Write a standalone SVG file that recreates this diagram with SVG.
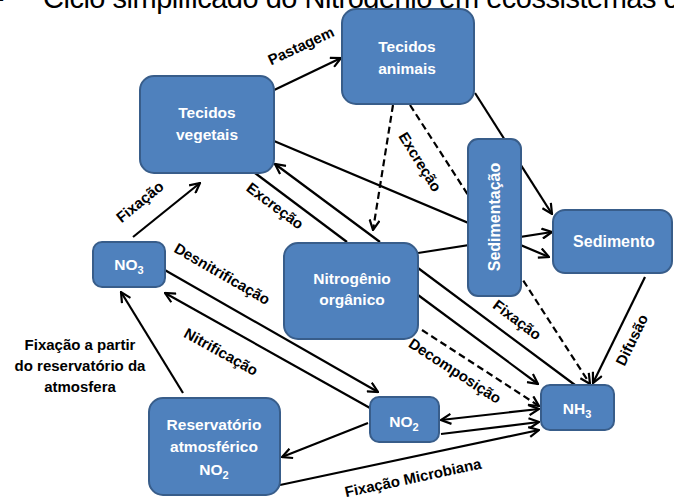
<svg xmlns="http://www.w3.org/2000/svg" width="674" height="500" viewBox="0 0 674 500">
<style>
.title{font-family:"Liberation Sans",Arial,sans-serif;font-size:29px;fill:#000}
.box{fill:#4F81BD;stroke:#385D8A;stroke-width:2}
.nt{font-family:"Liberation Sans",Arial,sans-serif;font-weight:bold;font-size:15.5px;fill:#fff;text-anchor:middle}
.lb{font-family:"Liberation Sans",Arial,sans-serif;font-weight:bold;font-size:15px;fill:#000;text-anchor:middle}
.ln{stroke:#000;stroke-width:2.2;fill:none}
.ds{stroke-dasharray:7,4}
.ar{marker-end:url(#ah)}
</style>
<defs>
<marker id="ah" viewBox="0 0 12 12" refX="11" refY="6" markerWidth="12" markerHeight="12" markerUnits="userSpaceOnUse" orient="auto-start-reverse">
<path d="M1,1 L11,6 L1,11" fill="none" stroke="#000" stroke-width="2.2" stroke-linejoin="miter"/>
</marker>
</defs>
<rect width="674" height="500" fill="#fff"/>
<text class="title" x="-13" y="8">–</text>
<text class="title" x="43" y="8" textLength="635" lengthAdjust="spacing">Ciclo simplificado do Nitrogênio em ecossistemas c</text>
<g id="connectors">
<path class="ln ar" d="M270,92 L341,58"/>
<path class="ln ar" d="M475,93 L552,214"/>
<path class="ln ds ar" d="M393,105 L373,230"/>
<path class="ln ds ar" d="M410,105 L590,384"/>
<path class="ln ar" d="M274,141 L549,257"/>
<path class="ln ar" d="M418,253 L552,232"/>
<path class="ln" d="M255,173 L347,242"/>
<path class="ln ar" d="M380,242 L275,164"/>
<path class="ln ar" d="M133,237 L200,183"/>
<path class="ln ar" d="M163,269 L378,392"/>
<path class="ln ar" d="M370,408 L165,293"/>
<path class="ln ar" d="M183,393 L121,292"/>
<path class="ln ar" d="M368,423 L282,457"/>
<path class="ln ar" d="M280,485 L539,430"/>
<path class="ln ar" d="M441,420 L539,409" marker-start="url(#ah)"/>
<path class="ln ar" d="M441,434 L539,422"/>
<path class="ln ds ar" d="M422,330 L539,406"/>
<path class="ln ar" d="M418,295 L538,384"/>
<path class="ln" d="M418,268 L575,385"/>
<path class="ln ar" d="M645,277 L593,383"/>
<text class="lb" transform="translate(301,46) rotate(-25)" y="5">Pastagem</text>
<text class="lb" transform="translate(420,162) rotate(58)" y="5">Excreção</text>
<text class="lb" transform="translate(275,206) rotate(37)" y="5">Excreção</text>
<text class="lb" transform="translate(140,202) rotate(-39)" y="5">Fixação</text>
<text class="lb" transform="translate(222,274) rotate(30)" y="5">Desnitrificação</text>
<text class="lb" transform="translate(221,352) rotate(29)" y="5">Nitrificação</text>
<text class="lb" transform="translate(455,371) rotate(33)" y="5">Decomposição</text>
<text class="lb" transform="translate(517,320) rotate(37)" y="5">Fixação</text>
<text class="lb" transform="translate(632,340) rotate(-64)" y="5">Difusão</text>
<text class="lb" transform="translate(413,478) rotate(-12)" y="5">Fixação Microbiana</text>
<text class="lb" x="80" y="350">Fixação a partir</text>
<text class="lb" x="80" y="371">do reservatório da</text>
<text class="lb" x="80" y="392">atmosfera</text>
</g>
<g id="tecidos-animais">
<rect class="box" x="342" y="9" width="132" height="95" rx="14"/>
<text class="nt" x="407" y="52">Tecidos</text>
<text class="nt" x="407" y="74">animais</text>
</g>
<g id="tecidos-vegetais">
<rect class="box" x="140" y="76" width="134" height="97" rx="14"/>
<text class="nt" x="207" y="118">Tecidos</text>
<text class="nt" x="207" y="140">vegetais</text>
</g>
<g id="sedimentacao">
<rect class="box" x="468" y="139" width="53" height="157" rx="10"/>
<text class="nt" transform="translate(494,217) rotate(-90)" y="5.5" style="font-size:16px">Sedimentação</text>
</g>
<g id="sedimento">
<rect class="box" x="553" y="210" width="119" height="63" rx="12"/>
<text class="nt" x="614" y="247" style="font-size:16px">Sedimento</text>
</g>
<g id="no3">
<rect class="box" x="93" y="242" width="72" height="45" rx="9"/>
<text class="nt" x="129" y="270">NO<tspan font-size="11" dy="4">3</tspan></text>
</g>
<g id="nitrogenio-organico">
<rect class="box" x="284" y="243" width="134" height="96" rx="14"/>
<text class="nt" x="352" y="284">Nitrogênio</text>
<text class="nt" x="352" y="305">orgânico</text>
</g>
<g id="reservatorio">
<rect class="box" x="149" y="398" width="131" height="97" rx="14"/>
<text class="nt" x="214" y="430">Reservatório</text>
<text class="nt" x="214" y="452">atmosférico</text>
<text class="nt" x="214" y="475">NO<tspan font-size="11" dy="4">2</tspan></text>
</g>
<g id="no2">
<rect class="box" x="370" y="397" width="69" height="45" rx="9"/>
<text class="nt" x="404" y="427">NO<tspan font-size="11" dy="4">2</tspan></text>
</g>
<g id="nh3">
<rect class="box" x="541" y="385" width="73" height="45" rx="9"/>
<text class="nt" x="577" y="414">NH<tspan font-size="11" dy="4">3</tspan></text>
</g>
</svg>
